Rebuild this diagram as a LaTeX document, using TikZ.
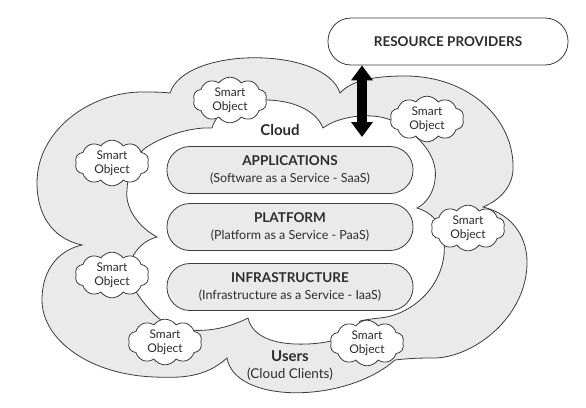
\documentclass[tikz,border=0pt]{standalone}
\usepackage{fontspec}
\setmainfont{Lato}
\usetikzlibrary{positioning, shapes.symbols, arrows.meta}
\definecolor{lineColor}{RGB}{60,60,60}
\definecolor{cloudGray}{RGB}{234,234,234}
\definecolor{textColor}{RGB}{45,45,45}
\tikzstyle{canvas} = [x = 1pt, y = -1pt]
\tikzstyle{cloudLine} = [draw=lineColor, line width=.8pt]
\tikzstyle{smartStyle} = [cloud, cloud puffs=10, cloud puff arc=110, aspect=2, draw=lineColor, line width=.8pt, fill=white, minimum width=74pt, minimum height=36pt, inner sep=0pt, align=center, font=\fontsize{12}{14.5}\selectfont, text=textColor]
\tikzstyle{layerStyle} = [draw=lineColor, line width=.8pt, fill=cloudGray, rounded corners=23pt, minimum width=246pt, minimum height=47pt, align=center, font=\fontsize{12.5}{17}\selectfont, text=textColor]
\tikzstyle{providerStyle} = [draw=lineColor, line width=.8pt, fill=white, rounded corners=23pt, minimum width=240pt, minimum height=47pt, font=\fontsize{13.5}{15}\selectfont\bfseries, text=textColor]
\tikzstyle{labelText} = [font=\fontsize{15}{17}\selectfont\bfseries, text=textColor]
\tikzstyle{clientText} = [font=\fontsize{13.5}{15}\selectfont, text=textColor]
\tikzstyle{bigArrow} = [line width=10pt, {Triangle[width=21pt,length=15pt]}-{Triangle[width=21pt,length=15pt]}]
\newcommand{\smartObject}[3]{\node [smartStyle] (#1) at (#2,#3) {Smart\\Object};}
\newcommand{\serviceLayer}[4]{\node [layerStyle] (#1) at (290,#2) {{\fontsize{13.5}{17}\selectfont\bfseries #3}\\#4};}

\begin{document}
\begin{tikzpicture}[canvas]
  \useasboundingbox (0,0) rectangle (586,407);
  % outer cloud
  \filldraw [cloudLine, fill=cloudGray] (170,93)
    .. controls (185,46) and (325,46) .. (340,93)
    .. controls (352,80) and (375,76) .. (405,76)
    .. controls (470,76) and (515,120) .. (513,170)
    .. controls (512,187) and (500,200) .. (483,207)
    .. controls (515,215) and (528,240) .. (527,265)
    .. controls (525,320) and (470,360) .. (430,358)
    .. controls (415,358) and (403,359) .. (395,360)
    .. controls (345,404) and (235,404) .. (227,358)
    .. controls (205,378) and (180,378) .. (155,377)
    .. controls (90,375) and (42,340) .. (42,300)
    .. controls (42,268) and (60,250) .. (82,245)
    .. controls (50,238) and (37,212) .. (37,183)
    .. controls (37,130) and (90,93) .. (140,92)
    .. controls (152,92) and (162,92) .. (170,93) -- cycle;
  % inner cloud
  \filldraw [cloudLine, fill=white] (212,128)
    .. controls (218,108) and (240,100) .. (265,100)
    .. controls (292,100) and (316,110) .. (323,128)
    .. controls (340,115) and (380,110) .. (400,125)
    .. controls (425,140) and (438,160) .. (435,180)
    .. controls (433,195) and (425,204) .. (417,208)
    .. controls (440,215) and (446,235) .. (444,255)
    .. controls (440,290) and (410,315) .. (380,318)
    .. controls (370,319) and (364,320) .. (360,321)
    .. controls (355,340) and (320,345) .. (295,344)
    .. controls (270,343) and (252,335) .. (248,318)
    .. controls (215,335) and (175,335) .. (155,315)
    .. controls (135,295) and (128,280) .. (130,265)
    .. controls (133,250) and (145,240) .. (157,237)
    .. controls (135,225) and (125,205) .. (127,190)
    .. controls (128,165) and (140,150) .. (150,145)
    .. controls (170,133) and (195,127) .. (212,128) -- cycle;

  \smartObject{smartTop}{230}{100}
  \smartObject{smartTopRight}{427}{119}
  \smartObject{smartTopLeft}{112}{163}
  \smartObject{smartRight}{468}{228}
  \smartObject{smartBottomLeft}{112}{275}
  \smartObject{smartLowLeft}{165}{342}
  \smartObject{smartLowRight}{367}{343}

  \serviceLayer{applications}{170}{APPLICATIONS}{(Software as a Service - SaaS)}
  \serviceLayer{platform}{227}{PLATFORM}{(Platform as a Service - PaaS)}
  \serviceLayer{infrastructure}{287}{INFRASTRUCTURE}{(Infrastructure as a Service - IaaS)}

  \node [labelText] (cloudLabel) at (280,130) {Cloud};
  \node [labelText] (usersLabel) at (290,356) {Users};
  \node [clientText] (clientsLabel) at (290,374) {(Cloud Clients)};

  \node [providerStyle] (providers) at (448,41.5) {RESOURCE PROVIDERS};
  \coordinate (arrowEnd) at (362,137);
  \draw [bigArrow] (providers.south -| arrowEnd) -- (arrowEnd);
\end{tikzpicture}
\end{document}
